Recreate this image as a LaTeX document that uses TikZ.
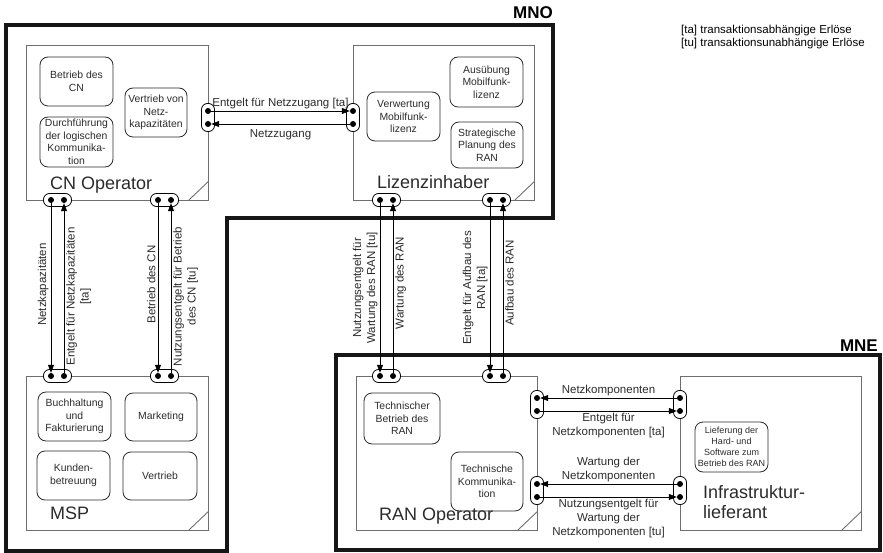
\documentclass[tikz,border=0pt]{standalone}
\usepackage{fontspec}
\setmainfont{Liberation Sans}
\usepackage{tikz}
\usetikzlibrary{arrows.meta, positioning, calc}
\definecolor{RoleGray}{HTML}{6E6E6E}
\definecolor{TaskDark}{HTML}{2B2B2B}
\definecolor{BoundBlack}{HTML}{161616}

\begin{document}
\begin{tikzpicture}[x=1pt, y=-1pt,
    role/.style={rectangle, draw=RoleGray, line width=0.9pt, inner sep=0pt,
      minimum width=181pt, minimum height=154pt},
    task/.style={rectangle, rounded corners=8pt, draw=TaskDark, line width=0.8pt,
      align=center, inner sep=1pt, text=TaskDark, font=\fontsize{10.4}{12.5}\selectfont},
    title/.style={anchor=base west, inner sep=0pt, align=left, text=TaskDark,
      font=\fontsize{18}{20}\selectfont},
    port/.style={rectangle, rounded corners=6pt, draw, fill=white, line width=0.8pt, inner sep=0pt},
    hport/.style={port, minimum width=28pt, minimum height=13pt},
    vport/.style={port, minimum width=13pt, minimum height=28pt},
    plug/.style={circle, fill=black, minimum size=6pt, inner sep=0pt},
    arr/.style={-{Triangle[length=8pt, width=6pt]}, line width=0.8pt},
    lbl/.style={align=center, inner sep=2pt, text=TaskDark, font=\fontsize{11.5}{14}\selectfont},
    uplbl/.style={lbl, rotate=90, anchor=south},
    dnlbl/.style={lbl, rotate=90, anchor=north},
    bound/.style={draw=BoundBlack, line width=3.5pt},
    fold/.style={draw=RoleGray, line width=0.9pt}
  ]
  \useasboundingbox (0,0) rectangle (883,553);

  % MNO / MNE
  \draw[bound] (6,25) -- (553,25) -- (553,218) -- (227,218) -- (227,551) -- (6,551) -- cycle;
  \draw[bound] (336,355) rectangle (880,550);
  \node[anchor=base east, inner sep=0pt, font=\bfseries\fontsize{17}{20}\selectfont] (mno) at (553,19) {MNO};
  \node[anchor=base east, inner sep=0pt, font=\bfseries\fontsize{17}{20}\selectfont] (mne) at (878,351) {MNE};

  \node[anchor=north west, align=left, inner sep=0pt, font=\fontsize{11.5}{13}\selectfont] (legend) at (681,25)
    {[ta] transaktionsabhängige Erlöse\\{}[tu] transaktionsunabhängige Erlöse};

  % roles
  \node[role, minimum width=182pt, minimum height=155pt] (cn) at (117,122.5) {};
  \node[role, minimum height=155pt] (liz) at (443.5,122.5) {};
  \node[role, minimum width=182pt] (msp) at (117,453) {};
  \node[role] (ran) at (446.5,453) {};
  \node[role] (inf) at (770.5,453) {};
  \foreach \r in {cn, liz, msp, ran, inf}
    \draw[fold] ($(\r.south east)+(0,-19)$) -- ($(\r.south east)+(-20,0)$);

  \node[title] (cnT) at (50,189.5) {CN Operator};
  \node[title] (lzT) at (377,189) {Lizenzinhaber};
  \node[title] (msT) at (50,519) {MSP};
  \node[title] (raT) at (379,520) {RAN Operator};
  \node[title] (inT) at (703,518) {Infrastruktur-\\lieferant};

  % tasks
  \node[task, minimum width=73pt, minimum height=49pt] (bet) at (76.5,81.5) {Betrieb des\\CN};
  \node[task, minimum width=73pt, minimum height=50pt] (dur) at (76.5,142) {Durchführung\\der logischen\\Kommunika-\\tion};
  \node[task, minimum width=62pt, minimum height=49pt] (vnk) at (156,112.5) {Vertrieb von\\Netz-\\kapazitäten};
  \node[task, minimum width=73pt, minimum height=50pt] (aus) at (486.5,82) {Ausübung\\Mobilfunk-\\lizenz};
  \node[task, minimum width=72pt, minimum height=46pt] (str) at (487,145) {Strategische\\Planung des\\RAN};
  \node[task, minimum width=73pt, minimum height=49pt] (ver) at (403.5,116.5) {Verwertung\\Mobilfunk-\\lizenz};
  \node[task, minimum width=73pt, minimum height=49pt] (buc) at (74.5,416.5) {Buchhaltung\\und\\Fakturierung};
  \node[task, minimum width=72pt, minimum height=48pt] (mkt) at (161,417) {Marketing};
  \node[task, minimum width=73pt, minimum height=49pt] (kun) at (73.5,475.5) {Kunden-\\betreuung};
  \node[task, minimum width=74pt, minimum height=48pt] (vtr) at (160,476) {Vertrieb};
  \node[task, minimum width=76pt, minimum height=51pt] (tbr) at (402,418.5) {Technischer\\Betrieb des\\RAN};
  \node[task, minimum width=72pt, minimum height=59pt] (tko) at (487,481.5) {Technische\\Kommunika-\\tion};
  \node[task, minimum width=73pt, minimum height=50pt, font=\fontsize{9}{11}\selectfont] (lie) at (731.5,447)
    {Lieferung der\\Hard- und\\Software zum\\Betrieb des RAN};

  % ports
  \node[vport] (cnSide) at (208,117.5) {};
  \node[vport] (lzSide) at (353,117.5) {};
  \foreach \n/\x in {a/57.5, b/164.5} {
    \node[hport] (cnPort\n) at (\x,200) {};
    \node[hport] (msPort\n) at (\x,376) {};
  }
  \foreach \n/\x in {a/386.5, b/496.5} {
    \node[hport] (lzPort\n) at (\x,200) {};
    \node[hport] (raPort\n) at (\x,376) {};
  }
  \foreach \n/\y in {a/404.5, b/490.5} {
    \node[vport] (raSide\n) at (537,\y) {};
    \node[vport] (inSide\n) at (680,\y) {};
  }

  % plugs
  \node[plug] (cnR1) at (208,111) {};
  \node[plug] (cnR2) at (208,124) {};
  \node[plug] (lzL1) at (353,111) {};
  \node[plug] (lzL2) at (353,124) {};
  \foreach \n/\x in {1/51, 2/64, 3/158, 4/171} {
    \node[plug] (cnB\n) at (\x,200) {};
    \node[plug] (msT\n) at (\x,376) {};
  }
  \foreach \n/\x in {1/380, 2/393, 3/490, 4/503} {
    \node[plug] (lzB\n) at (\x,200) {};
    \node[plug] (raT\n) at (\x,376) {};
  }
  \foreach \n/\y in {1/398, 2/411, 3/484, 4/497} {
    \node[plug] (raR\n) at (537,\y) {};
    \node[plug] (inL\n) at (680,\y) {};
  }

  % flows
  \draw[arr] (cnR1) -- node[lbl, above]{Entgelt für Netzzugang [ta]} (lzL1);
  \draw[arr] (lzL2) -- node[lbl, below=3pt]{Netzzugang} (cnR2);

  \draw[arr] (cnB1) -- node[uplbl, pos=0.48]{Netzkapazitäten} (msT1);
  \draw[arr] (msT2) -- node[dnlbl, pos=0.45]{Entgelt für Netzkapazitäten\\{}[ta]} (cnB2);
  \draw[arr] (cnB3) -- node[uplbl, pos=0.48]{Betrieb des CN} (msT3);
  \draw[arr] (msT4) -- node[dnlbl, pos=0.45]{Nutzungsentgelt für Betrieb\\des CN [tu]} (cnB4);

  \draw[arr] (lzB1) -- node[uplbl]{Nutzungsentgelt für\\Wartung des RAN [tu]} (raT1);
  \draw[arr] (raT2) -- node[dnlbl, pos=0.53]{Wartung des RAN} (lzB2);
  \draw[arr] (lzB3) -- node[uplbl]{Entgelt für Aufbau des\\RAN [ta]} (raT3);
  \draw[arr] (raT4) -- node[dnlbl, pos=0.53]{Aufbau des RAN} (lzB4);

  \draw[arr] (inL1) -- node[lbl, above]{Netzkomponenten} (raR1);
  \draw[arr] (raR2) -- node[lbl, below]{Entgelt für\\Netzkomponenten [ta]} (inL2);
  \draw[arr] (inL3) -- node[lbl, above]{Wartung der\\Netzkomponenten} (raR3);
  \draw[arr] (raR4) -- node[lbl, below]{Nutzungsentgelt für\\Wartung der\\Netzkomponenten [tu]} (inL4);
\end{tikzpicture}
\end{document}
